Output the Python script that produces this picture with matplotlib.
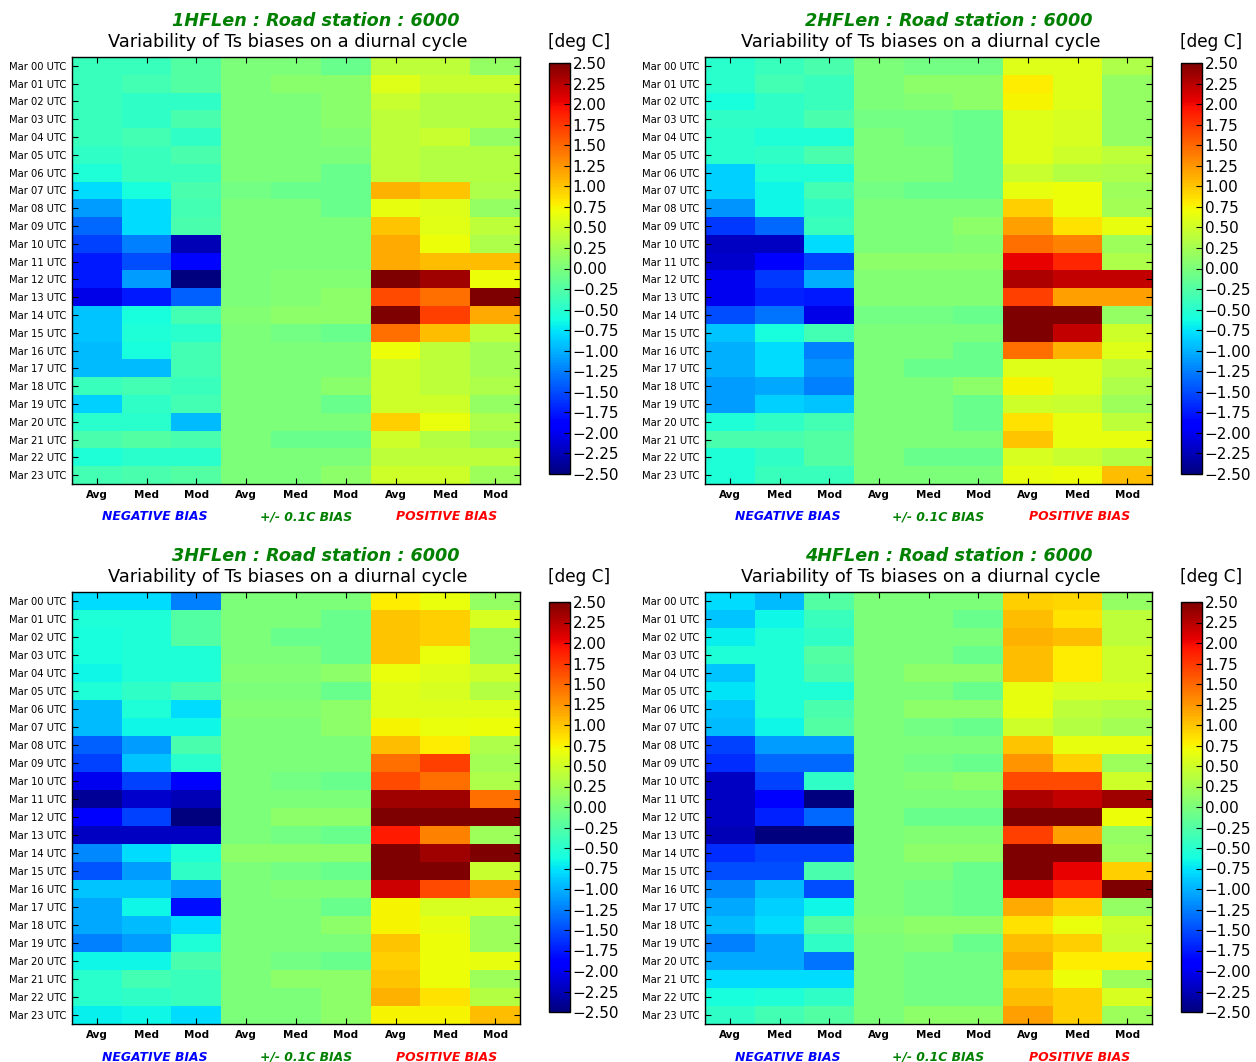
import numpy as np
import matplotlib
matplotlib.use('Agg')
import matplotlib.pyplot as plt
from matplotlib.ticker import FuncFormatter

# hourly rows, columns: neg avg/med/mod, +/-0.1C avg/med/mod, pos avg/med/mod
hours = ['Mar %02d UTC' % h for h in range(24)]
stats = ['Avg', 'Med', 'Mod'] * 3
runs = ['1HFLen', '2HFLen', '3HFLen', '4HFLen']
station = 6000

bias_1h = [
    [-0.40, -0.40, -0.25, 0.00, 0.00, -0.10, 0.40, 0.40, 0.15],
    [-0.40, -0.35, -0.25, 0.00, 0.08, 0.08, 0.60, 0.45, 0.45],
    [-0.40, -0.45, -0.45, 0.00, 0.00, 0.08, 0.45, 0.35, 0.35],
    [-0.40, -0.45, -0.30, 0.00, 0.00, 0.08, 0.40, 0.35, 0.35],
    [-0.40, -0.35, -0.45, 0.00, 0.00, 0.05, 0.40, 0.45, 0.15],
    [-0.45, -0.40, -0.30, 0.00, 0.00, 0.00, 0.40, 0.35, 0.35],
    [-0.55, -0.40, -0.40, 0.00, 0.00, -0.10, 0.40, 0.35, 0.35],
    [-0.80, -0.60, -0.30, -0.05, -0.10, -0.10, 1.10, 1.00, 0.30],
    [-1.10, -0.80, -0.35, 0.00, 0.00, -0.10, 0.65, 0.60, 0.15],
    [-1.35, -0.80, -0.30, 0.00, 0.00, 0.00, 1.00, 0.62, 0.40],
    [-1.55, -1.25, -2.25, 0.00, 0.00, 0.00, 1.15, 0.70, 0.30],
    [-1.75, -1.50, -1.85, 0.00, 0.00, 0.00, 1.15, 1.05, 1.05],
    [-1.75, -1.10, -2.50, 0.00, 0.05, 0.05, 2.50, 2.35, 0.70],
    [-2.05, -1.75, -1.40, 0.00, 0.05, 0.10, 1.65, 1.45, 2.50],
    [-0.90, -0.60, -0.35, 0.05, 0.10, 0.10, 2.50, 1.70, 1.15],
    [-0.90, -0.55, -0.50, 0.00, -0.05, -0.10, 1.45, 1.05, 0.40],
    [-0.95, -0.60, -0.35, 0.00, 0.00, 0.00, 0.70, 0.40, 0.25],
    [-0.95, -0.95, -0.35, 0.00, 0.00, 0.00, 0.50, 0.40, 0.25],
    [-0.40, -0.35, -0.40, 0.00, 0.00, 0.08, 0.50, 0.40, 0.30],
    [-0.85, -0.45, -0.35, 0.00, 0.00, -0.10, 0.50, 0.50, 0.15],
    [-0.50, -0.50, -0.95, 0.00, 0.00, 0.00, 0.95, 0.68, 0.30],
    [-0.30, -0.25, -0.30, 0.00, -0.10, -0.10, 0.50, 0.35, 0.20],
    [-0.55, -0.50, -0.50, 0.00, 0.00, 0.00, 0.40, 0.40, 0.40],
    [-0.35, -0.30, -0.25, 0.00, 0.00, 0.10, 0.50, 0.50, 0.20],
]

bias_2h = [
    [-0.50, -0.40, -0.30, 0.00, -0.05, -0.05, 0.60, 0.60, 0.30],
    [-0.50, -0.35, -0.40, 0.00, 0.10, 0.10, 0.80, 0.60, 0.15],
    [-0.60, -0.45, -0.40, 0.00, 0.05, 0.10, 0.75, 0.60, 0.15],
    [-0.45, -0.45, -0.30, -0.05, -0.05, -0.10, 0.60, 0.55, 0.15],
    [-0.50, -0.55, -0.55, 0.00, -0.05, -0.10, 0.60, 0.55, 0.15],
    [-0.50, -0.45, -0.30, 0.00, 0.00, -0.10, 0.60, 0.50, 0.40],
    [-0.85, -0.55, -0.55, 0.00, 0.00, -0.10, 0.45, 0.35, 0.30],
    [-0.85, -0.65, -0.35, -0.05, -0.10, -0.10, 0.65, 0.70, 0.20],
    [-1.15, -0.65, -0.45, 0.00, 0.00, 0.00, 0.95, 0.70, 0.25],
    [-1.60, -1.35, -0.40, 0.00, 0.00, 0.10, 1.20, 0.85, 0.65],
    [-2.20, -2.20, -0.80, 0.00, 0.00, 0.05, 1.45, 1.35, 0.20],
    [-2.15, -1.90, -1.55, 0.10, 0.10, 0.10, 2.05, 1.85, 0.30],
    [-2.00, -1.60, -1.00, 0.05, 0.05, 0.05, 2.30, 2.20, 2.20],
    [-2.00, -1.70, -1.75, 0.05, 0.05, 0.05, 1.70, 1.20, 1.20],
    [-1.50, -1.30, -2.05, -0.05, -0.05, -0.10, 2.50, 2.50, 0.15],
    [-0.90, -0.60, -0.35, 0.00, 0.00, 0.00, 2.50, 2.20, 0.50],
    [-1.00, -0.80, -1.25, 0.00, 0.00, -0.10, 1.45, 1.10, 0.60],
    [-1.00, -0.80, -1.15, 0.00, -0.10, -0.10, 0.60, 0.60, 0.40],
    [-1.10, -1.05, -1.25, 0.00, 0.00, 0.10, 0.75, 0.60, 0.30],
    [-1.10, -0.85, -0.90, 0.00, 0.00, -0.10, 0.50, 0.45, 0.20],
    [-0.55, -0.45, -0.35, 0.00, 0.00, -0.10, 0.85, 0.65, 0.40],
    [-0.30, -0.30, -0.25, 0.00, 0.00, 0.00, 1.00, 0.65, 0.65],
    [-0.55, -0.45, -0.25, 0.00, -0.10, -0.10, 0.55, 0.45, 0.35],
    [-0.55, -0.40, -0.40, 0.00, 0.00, 0.00, 0.65, 0.70, 1.05],
]

bias_3h = [
    [-0.80, -0.80, -1.25, 0.00, 0.00, 0.00, 0.80, 0.68, 0.15],
    [-0.55, -0.55, -0.25, 0.00, 0.00, -0.10, 1.00, 0.95, 0.55],
    [-0.60, -0.55, -0.25, 0.00, -0.10, -0.10, 1.00, 0.95, 0.15],
    [-0.60, -0.55, -0.55, 0.00, 0.00, -0.10, 1.00, 0.68, 0.15],
    [-0.65, -0.55, -0.55, 0.05, 0.05, 0.10, 0.68, 0.60, 0.50],
    [-0.55, -0.45, -0.30, 0.00, 0.00, -0.10, 0.60, 0.55, 0.35],
    [-0.95, -0.55, -0.80, 0.05, 0.05, 0.10, 0.60, 0.60, 0.60],
    [-0.95, -0.65, -0.65, 0.00, 0.00, 0.10, 0.75, 0.68, 0.70],
    [-1.40, -1.10, -0.30, 0.00, 0.00, 0.00, 1.05, 0.80, 0.30],
    [-1.55, -0.90, -0.50, 0.00, 0.00, 0.00, 1.45, 1.70, 0.25],
    [-2.00, -1.55, -1.90, 0.00, -0.05, -0.10, 1.65, 1.45, 0.30],
    [-2.40, -2.15, -2.25, 0.00, 0.00, 0.00, 2.35, 2.35, 1.45],
    [-1.90, -1.55, -2.50, 0.00, 0.10, 0.10, 2.50, 2.50, 2.50],
    [-2.20, -2.20, -2.20, 0.00, -0.05, -0.10, 1.90, 1.35, 0.20],
    [-1.20, -0.80, -0.55, 0.10, 0.10, 0.10, 2.50, 2.35, 2.50],
    [-1.45, -1.10, -0.45, 0.00, -0.05, -0.10, 2.50, 2.50, 0.45],
    [-0.90, -0.90, -1.10, 0.00, 0.05, 0.05, 2.15, 1.65, 1.25],
    [-1.05, -0.65, -1.80, 0.00, 0.00, -0.10, 0.75, 0.55, 0.55],
    [-1.05, -0.95, -0.80, 0.00, 0.00, 0.10, 0.75, 0.65, 0.20],
    [-1.25, -1.10, -0.55, 0.00, 0.00, 0.00, 1.00, 0.70, 0.20],
    [-0.65, -0.65, -0.30, 0.00, -0.05, -0.10, 0.95, 0.70, 0.65],
    [-0.50, -0.35, -0.40, 0.00, 0.10, 0.10, 1.00, 0.70, 0.20],
    [-0.50, -0.45, -0.40, 0.00, 0.00, 0.10, 1.10, 0.85, 0.35],
    [-0.70, -0.65, -0.80, 0.00, 0.00, 0.10, 0.75, 0.75, 1.05],
]

bias_4h = [
    [-0.80, -0.95, -0.25, 0.00, 0.00, 0.00, 0.95, 0.90, 0.15],
    [-0.90, -0.65, -0.40, 0.00, 0.00, -0.10, 1.05, 0.85, 0.40],
    [-0.70, -0.55, -0.45, 0.00, 0.00, 0.00, 1.10, 1.05, 0.40],
    [-0.55, -0.55, -0.25, 0.00, 0.00, -0.10, 1.05, 0.80, 0.50],
    [-0.90, -0.55, -0.30, 0.00, 0.10, 0.10, 1.05, 0.80, 0.50],
    [-0.75, -0.55, -0.55, 0.00, 0.00, -0.10, 0.65, 0.55, 0.55],
    [-0.90, -0.55, -0.30, 0.00, 0.10, 0.10, 0.65, 0.40, 0.35],
    [-0.95, -0.65, -0.25, 0.00, -0.05, -0.10, 0.50, 0.35, 0.25],
    [-1.55, -1.10, -1.10, 0.00, 0.00, 0.00, 1.00, 0.65, 0.65],
    [-1.65, -1.35, -1.35, 0.00, -0.05, -0.10, 1.25, 0.95, 0.20],
    [-2.20, -1.55, -0.45, 0.00, 0.05, 0.10, 1.65, 1.65, 0.50],
    [-2.20, -1.95, -2.50, 0.00, 0.00, 0.00, 2.30, 2.20, 2.35],
    [-2.20, -1.70, -1.35, 0.00, -0.10, -0.10, 2.50, 2.50, 0.70],
    [-2.25, -2.50, -2.50, 0.00, 0.05, 0.05, 1.70, 1.20, 0.15],
    [-1.65, -1.55, -1.55, 0.00, 0.10, 0.10, 2.50, 2.50, 0.20],
    [-1.50, -1.50, -0.30, 0.00, 0.00, -0.10, 2.50, 2.05, 0.95],
    [-1.20, -0.95, -1.50, 0.00, -0.05, -0.10, 2.05, 1.85, 2.50],
    [-1.05, -0.85, -0.65, 0.00, -0.05, -0.10, 1.15, 0.95, 0.15],
    [-0.95, -0.80, -0.25, 0.05, 0.10, 0.10, 0.85, 0.68, 0.50],
    [-1.25, -1.05, -0.45, 0.00, 0.05, -0.10, 1.05, 0.95, 0.45],
    [-1.05, -1.05, -1.30, 0.00, -0.05, -0.05, 1.15, 0.80, 0.80],
    [-0.80, -0.80, -0.80, 0.00, -0.05, -0.05, 0.95, 0.70, 0.20],
    [-0.60, -0.55, -0.45, 0.00, -0.05, -0.05, 1.05, 0.95, 0.55],
    [-0.45, -0.35, -0.25, 0.00, 0.10, 0.10, 1.20, 0.95, 0.20],
]

biases = [bias_1h, bias_2h, bias_3h, bias_4h]
groups = ['NEGATIVE BIAS', '+/- 0.1C BIAS', 'POSITIVE BIAS']
group_colors = ['blue', 'green', 'red']

W, H = 1256, 1062
fig = plt.figure(figsize=(W / 100, H / 100), dpi=100)

# pixel boxes (left, top, right, bottom) for each map and its colorbar
map_boxes = [(72, 57, 520, 484), (705, 57, 1152, 484),
             (72, 592, 520, 1024), (705, 592, 1152, 1024)]
cb_boxes = [(549, 63, 570, 474), (1181, 63, 1202, 474),
            (549, 602, 570, 1012), (1181, 602, 1202, 1012)]


def fig_rect(box):
    l, t, r, b = box
    return [l / W, 1 - b / H, (r - l) / W, (b - t) / H]


fmt = FuncFormatter(lambda v, p: ('%.2f' % v).replace('-', '\u2212'))

for i in range(4):
    ax = fig.add_axes(fig_rect(map_boxes[i]))
    data = np.array(biases[i])
    im = ax.imshow(data, cmap='jet', vmin=-2.5, vmax=2.5, aspect='auto',
                   interpolation='nearest')
    ax.set_xticks(range(9))
    ax.set_xticklabels(stats, fontsize=7.5, fontweight='bold')
    ax.set_yticks(range(24))
    ax.set_yticklabels(hours, fontsize=7.2)
    ax.tick_params(direction='in', top=True, right=True, length=4, width=0.8,
                   pad=4)
    for s in ax.spines.values():
        s.set_linewidth(1.0)

    for k, (g, c) in enumerate(zip(groups, group_colors)):
        ax.text([0.185, 0.522, 0.837][k], -0.077, g, color=c, fontsize=8.9,
                fontweight='bold', fontstyle='italic', ha='center',
                va='center', transform=ax.transAxes)

    l, t, r, b = map_boxes[i]
    fig.text((l + 244) / W, 1 - (t - 36) / H,
             '%s : Road station : %d' % (runs[i], station), color='green',
             fontsize=12.7, fontweight='bold', fontstyle='italic',
             ha='center', va='center')
    fig.text((l + 216) / W, 1 - (t - 15) / H,
             'Variability of Ts biases on a diurnal cycle', fontsize=12.75,
             ha='center', va='center')

    cax = fig.add_axes(fig_rect(cb_boxes[i]))
    cb = fig.colorbar(im, cax=cax, ticks=np.arange(-2.5, 2.51, 0.25),
                      format=fmt)
    cb.ax.tick_params(labelsize=11, direction='in', length=4, width=0.8,
                      pad=2)
    cb.outline.set_linewidth(1.0)
    cl, ct, cr, cbm = cb_boxes[i]
    fig.text((cl + 30) / W, 1 - (t - 15) / H, '[deg C]', fontsize=12.2,
             ha='center', va='center')

fig.savefig('out.png', dpi=100)
